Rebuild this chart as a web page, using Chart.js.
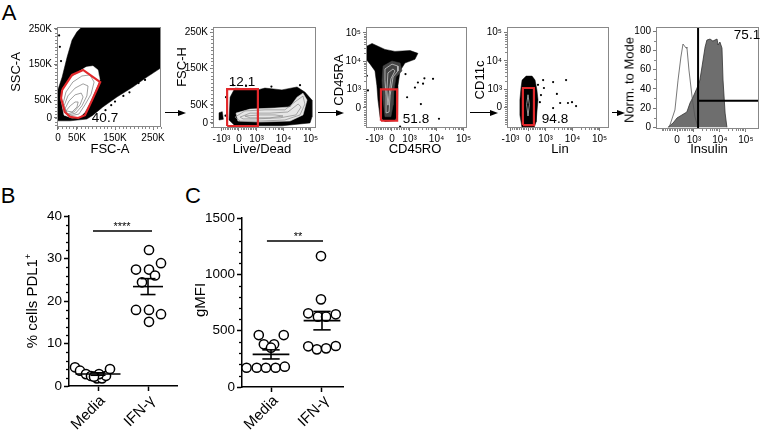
<!DOCTYPE html>
<html><head><meta charset="utf-8">
<script src="https://cdn.jsdelivr.net/npm/chart.js@4.4.1/dist/chart.umd.min.js"></script>
<style>
html,body{margin:0;padding:0;width:760px;height:433px;overflow:hidden;background:#fff;font-family:"Liberation Sans",Arial,Helvetica,sans-serif;color:#000}
canvas{position:absolute}
.t{position:absolute;white-space:nowrap;transform:translate(-50%,-50%);line-height:1}
.r{transform:translate(-50%,-50%) rotate(-90deg)}
.cat{position:absolute;white-space:nowrap;line-height:1;margin-top:-0.5em;transform-origin:100% 50%;transform:rotate(-45deg)}
.ar{position:absolute;height:0;border-top:1.5px solid #000}
.ah{position:absolute;width:0;height:0;border-top:3.5px solid transparent;border-bottom:3.5px solid transparent;border-left:8px solid #000}
</style></head><body>
<script>
// ================= DATA =================
// Panel A – flow plots (gate/contour outlines, in axis units)
const kTicks = [0, 50, 150, 250];
const kLabels = ['0', '50K', '150K', '250K'];
const logTicks = [-0.65, 0, 0.65, 1.65, 2.65];
const logLabels = ['-10³', '0', '10³', '10⁴', '10⁵'];
const logTicksPos = [0, 0.65, 1.65, 2.65];
const logLabelsPos = ['0', '10³', '10⁴', '10⁵'];
const logTicksY = [0, 0.65, 1.65, 2.65];
const logLabelsY = ['0', '10³', '10⁴', '10⁵'];
const pctTicks = [0, 20, 40, 60, 80, 100];
const pctLabels = ['0', '20', '40', '60', '80', '100'];

const p1Cloud = [[-3,-8],[-3,70],[11,115],[24,171],[37,219],[50,242],[63,256],[274,256],[274,143],[234,115],[197,87],[155,59],[118,31],[92,8],[76,-3],[32,-8],[-3,-8]];
const p1Light = [[8,51],[13,84],[32,112],[53,129],[74,143],[92,146],[105,135],[110,107],[97,73],[84,42],[71,17],[58,3],[37,0],[16,8],[8,51]];
const p1Contour1 = [[13,39],[21,73],[39,101],[63,118],[84,121],[95,101],[87,67],[71,37],[55,11],[32,6],[16,17],[13,39]];
const p1Contour2 = [[16,34],[26,62],[45,84],[66,96],[79,90],[76,62],[63,34],[47,14],[26,8],[16,34]];
const p1Contour3 = [[18,25],[29,48],[45,65],[61,70],[66,59],[58,37],[42,17],[24,11],[18,25]];
const p1Contour4 = [[21,20],[32,34],[45,45],[53,45],[50,31],[37,17],[21,20]];
const p1Gate = [[11,79],[37,121],[66,135],[111,101],[90,51],[71,8],[53,0],[32,3],[18,17],[8,56],[11,79]];
const p1Dots = [[229,107],[212,98],[188,72],[172,62],[140,36],[125,22],[5,200],[8,160],[3,232],[244,126],[258,140],[150,46]];

const p2Cloud = [[-0.37,8],[-0.33,71],[-0.15,96],[0.70,91],[0.96,96],[1.59,91],[2.15,99],[2.44,85],[2.70,63],[2.70,16],[2.63,0],[1.59,-8],[-0.15,-8],[-0.37,8]];
const p2Blob = [[-0.74,8],[-0.74,28],[-0.62,31],[-0.58,10],[-0.74,8]];
const p2Band = [[-0.11,27],[0.41,38],[1.33,41],[1.89,44],[2.15,71],[2.37,82],[2.52,63],[2.37,22],[1.89,5],[0.78,2.5],[-0.04,5],[-0.11,27]];
const p2Contour1 = [[-0.15,16],[0.22,33],[0.96,36],[1.70,36],[2.11,60],[2.37,74],[2.44,52],[2.26,22],[1.70,8],[0.78,5],[0.04,5],[-0.15,16]];
const p2Contour2 = [[0.04,16],[0.41,27],[1.15,27],[1.81,30],[2.19,52],[2.30,44],[2.11,22],[1.52,14],[0.59,11],[0.15,11],[0.04,16]];
const p2Contour3 = [[0.22,19],[0.78,22],[1.33,22],[1.63,19],[1.15,14],[0.41,14],[0.22,19]];
const p2Gate = [[-0.44,-8.5],[-0.44,93],[0.70,93],[0.70,-8.5],[-0.44,-8.5]];
const p2Dots = [[-0.22,104],[0.26,102],[2.26,104],[-0.48,71],[1.2,100],[-0.5,20]];

const p3Cloud = [[-0.96,2.17],[-0.74,2.28],[-0.26,2.07],[0.11,2.0],[0.67,2.03],[0.96,1.93],[0.85,1.72],[0.48,1.59],[0.30,1.31],[0.22,0.79],[0.19,0.28],[0.22,-0.24],[0.11,-0.45],[-0.26,-0.48],[-0.44,-0.34],[-0.52,0.28],[-0.56,0.79],[-0.63,1.31],[-0.81,1.55],[-0.96,1.72],[-0.96,2.17]];
const p3Core = [[-0.33,1.48],[0,1.66],[0.30,1.59],[0.37,1.31],[0.15,1.10],[0.07,0.62],[0.04,0.10],[-0.04,-0.31],[-0.26,-0.31],[-0.33,0.28],[-0.37,0.97],[-0.33,1.48]];
const p3Contour1 = [[-0.26,1.38],[0,1.55],[0.22,1.48],[0.22,1.31],[0.04,1.10],[-0.07,0.45],[-0.11,-0.14],[-0.19,-0.17],[-0.22,0.45],[-0.26,0.97],[-0.26,1.38]];
const p3Contour2 = [[-0.15,1.24],[0.04,1.38],[0.11,1.31],[-0.04,1.03],[-0.11,0.45],[-0.15,0.10],[-0.19,0.62],[-0.15,1.24]];
const p3Gate = [[-0.41,-0.45],[-0.41,0.66],[0.19,0.66],[0.19,-0.45],[-0.41,-0.45]];
const p3Dots = [[0.96,0.90],[1.15,0.86],[1.52,1.03],[0.56,0.38],[0.85,0.72],[1.07,0.14],[1.74,-0.38],[0.30,-0.66],[-0.93,1.14],[-0.89,0.62],[0.5,1.2],[1.2,1.05]];

const p4Cloud = [[-0.26,0.69],[-0.22,0.97],[-0.07,1.11],[0.15,1.11],[0.26,0.97],[0.33,0.62],[0.37,0.27],[0.33,-0.16],[0.30,-0.51],[0.22,-0.72],[-0.22,-0.72],[-0.30,-0.27],[-0.30,0.27],[-0.26,0.69]];
const p4Streak = [[0,0.45],[0.05,0.1],[0,-0.3],[-0.05,0.1],[0,0.45]];
const p4Gate = [[-0.19,-0.62],[-0.19,0.69],[0.22,0.69],[0.22,-0.62],[-0.19,-0.62]];
const p4Dots = [[0.93,0.90],[1.41,0.97],[1.07,0.48],[1.19,0.16],[0.93,-0.02],[1.48,0.16],[1.63,0.19],[1.78,0.05],[0.56,0.97],[0.59,0.69],[0.48,0.44],[0.44,0.19],[0.37,0.80]];

const p5Insulin = [[-0.35,0],[-0.15,4.5],[0,9.7],[0.19,12.8],[0.38,15.9],[0.5,25.2],[0.62,31.5],[0.77,40.8],[0.88,49.1],[0.96,62.6],[1.08,83.4],[1.15,90.6],[1.27,91.7],[1.38,89.6],[1.54,91.7],[1.58,85.5],[1.65,88.6],[1.73,82.3],[1.77,49.1],[1.85,14.8],[1.92,0]];
const p5Control = [[-0.3,0],[-0.08,18],[0.04,49],[0.15,73],[0.23,86.5],[0.35,82.3],[0.38,83.4],[0.46,59.5],[0.58,31.5],[0.69,10.7],[0.81,0]];
const p5GateX = 0.81;
const p5GateY = 27.6;

const gateValues = ['40.7', '12.1', '51.8', '94.8', '75.1'];

// Panels B & C – dot plots
const groups = ['Media', 'IFN-γ'];
const bMedia = [4.4, 3.6, 2.8, 2.35, 1.8, 1.8, 2.4, 4.0, 2.8, 2.2];
const bMediaJitter = [-0.46, -0.36, -0.24, -0.14, -0.02, 0.08, 0.16, 0.24, 0.02, -0.08];
const bIfn = [32.0, 27.4, 27.4, 28.9, 26.0, 24.4, 17.9, 17.9, 16.9, 15.1];
const bIfnJitter = [0.02, -0.24, 0.02, 0.26, 0.14, -0.12, -0.24, 0.02, 0.26, 0.02];
const bTicks = [0, 10, 20, 30, 40];
const bSigY = 36.5;
const cMedia = [461, 461, 379, 379, 349, 171, 171, 171, 171, 180];
const cMediaJitter = [-0.24, 0.25, -0.14, 0.06, 0.0, -0.48, -0.28, -0.10, 0.09, 0.27];
const cIfn = [1162, 778, 654, 624, 624, 645, 361, 334, 343, 364];
const cIfnJitter = [-0.02, -0.02, -0.27, -0.08, 0.08, 0.27, -0.27, -0.10, 0.08, 0.27];
const cTicks = [0, 500, 1000, 1500];
const cSigY = 1296;

// ================= HELPERS =================
const FONT = "'Liberation Sans', Arial, Helvetica, sans-serif";
const pts = a => a.map(p => ({x: p[0], y: p[1]}));
const shape = (a, col, order) => ({data: pts(a), showLine: true, fill: 'shape', backgroundColor: col, borderColor: col, borderWidth: 0.5, pointRadius: 0, tension: 0, order});
const outline = (a, col, w, order) => ({data: pts(a), showLine: true, fill: false, borderColor: col, borderWidth: w, pointRadius: 0, tension: 0, order});
const dots = (a, order) => ({data: pts(a), showLine: false, pointRadius: 1.1, pointBackgroundColor: '#000', pointBorderWidth: 0, order});

const logMinor = [];
for (let k = 2; k <= 9; k++) { logMinor.push(0.65 + Math.log10(k), 1.65 + Math.log10(k)); }
for (let k = 1; k <= 9; k++) { logMinor.push(0.065 * k, -0.065 * k); }
const kMinor = [];
for (let v = -20; v <= 270; v += 10) kMinor.push(v);

const decorPlugin = {
  id: 'decor',
  afterDraw(chart, args, o) {
    const ctx = chart.ctx, a = chart.chartArea;
    ctx.save();
    if (o.frame) {
      ctx.strokeStyle = o.frame; ctx.lineWidth = 1;
      ctx.strokeRect(Math.round(a.left) + 0.5, Math.round(a.top) + 0.5, Math.round(a.right - a.left) - 1, Math.round(a.bottom - a.top) - 1);
    }
    ctx.strokeStyle = o.minorColor || '#000';
    ctx.lineWidth = o.minorWidth || 1;
    const len = o.minorLen || 2;
    const xs = chart.scales.x, ys = chart.scales.y;
    (o.xMinor || []).forEach(v => {
      if (v < xs.min || v > xs.max) return;
      const x = Math.round(xs.getPixelForValue(v)) + 0.5;
      ctx.beginPath(); ctx.moveTo(x, a.bottom); ctx.lineTo(x, a.bottom + len); ctx.stroke();
    });
    (o.yMinor || []).forEach(v => {
      if (v < ys.min || v > ys.max) return;
      const y = Math.round(ys.getPixelForValue(v)) + 0.5;
      ctx.beginPath(); ctx.moveTo(a.left, y); ctx.lineTo(a.left - len, y); ctx.stroke();
    });
    ctx.restore();
  }
};

function axis(spec, pos, size, st) {
  return {
    type: 'linear', position: pos, min: spec.min, max: spec.max,
    afterBuildTicks: s => { s.ticks = spec.ticks.map(v => ({value: v})); },
    afterFit: s => { if (pos === 'left') s.width = size; else s.height = size; },
    ticks: {
      display: spec.showLabels !== false,
      callback: (v, i) => spec.labels[i], autoSkip: false,
      font: {family: FONT, size: st.tickSize}, color: '#000', padding: st.tickPad,
      maxRotation: 0, minRotation: 0
    },
    grid: {display: true, drawOnChartArea: false, drawTicks: true, tickLength: st.tickLen, tickColor: st.tickColor, tickWidth: st.tickWidth, color: st.tickColor},
    border: {display: st.border, color: '#000', width: st.borderWidth}
  };
}

function build(box, area, xSpec, ySpec, datasets, st, decor) {
  const cv = document.createElement('canvas');
  cv.width = box.w; cv.height = box.h;
  Object.assign(cv.style, {left: box.l + 'px', top: box.t + 'px', width: box.w + 'px', height: box.h + 'px'});
  document.body.appendChild(cv);
  const yW = area.l - box.l, padT = area.t - box.t, padR = box.l + box.w - area.r, xH = box.t + box.h - area.b;
  new Chart(cv, {
    type: 'scatter',
    data: {datasets},
    options: {
      responsive: false, maintainAspectRatio: false, animation: false, devicePixelRatio: 1, events: [],
      layout: {padding: {top: padT, right: padR, left: 0, bottom: 0}},
      plugins: {legend: {display: false}, tooltip: {enabled: false}, decor},
      scales: {x: axis(xSpec, 'bottom', xH, st), y: axis(ySpec, 'left', yW, st)}
    },
    plugins: [decorPlugin]
  });
}

const flowStyle = {tickSize: 10, tickPad: 2, tickLen: 3, tickColor: '#777', tickWidth: 1, border: false, borderWidth: 1};
const flowDecor = (xm, ym) => ({frame: '#888', minorColor: '#888', minorLen: 2, xMinor: xm, yMinor: ym});
const RED = '#e2282b';

// ---- P1 : FSC-A vs SSC-A
build({l: 18, t: 19, w: 151, h: 124}, {l: 57, t: 27, r: 161, b: 127},
  {min: -2.6, max: 271, ticks: kTicks, labels: kLabels},
  {min: -25.3, max: 255.6, ticks: kTicks, labels: kLabels},
  [outline(p1Gate, RED, 2.2, 1), dots(p1Dots, 2),
   outline(p1Contour4, '#777', 0.7, 3), outline(p1Contour3, '#777', 0.7, 3), outline(p1Contour2, '#777', 0.7, 3), outline(p1Contour1, '#777', 0.7, 3),
   shape(p1Light, '#fff', 4), shape(p1Cloud, '#000', 5)],
  flowStyle, flowDecor(kMinor, kMinor));

// ---- P2 : Live/Dead vs FSC-H
build({l: 173, t: 19, w: 151, h: 124}, {l: 213, t: 27, r: 316, b: 128},
  {min: -0.963, max: 2.852, ticks: logTicks, labels: logLabels},
  {min: -14.0, max: 264.2, ticks: kTicks, labels: kLabels},
  [outline(p2Gate, RED, 2.2, 1), dots(p2Dots, 2),
   outline(p2Contour3, '#888', 0.7, 3), outline(p2Contour2, '#888', 0.7, 3), outline(p2Contour1, '#888', 0.7, 3),
   shape(p2Band, '#e6e6e6', 4), shape(p2Blob, '#000', 5), shape(p2Cloud, '#000', 5)],
  flowStyle, flowDecor(logMinor, kMinor));

// ---- P3 : CD45RO vs CD45RA
build({l: 336, t: 19, w: 139, h: 124}, {l: 366, t: 27, r: 467, b: 128},
  {min: -0.963, max: 2.778, ticks: logTicks, labels: logLabels},
  {min: -0.707, max: 2.862, ticks: logTicksY, labels: logLabelsY},
  [outline(p3Gate, RED, 2.2, 1), dots(p3Dots, 2),
   outline(p3Contour2, '#ddd', 0.7, 3), outline(p3Contour1, '#ddd', 0.7, 3),
   shape(p3Core, '#444', 4), shape(p3Cloud, '#000', 5)],
  flowStyle, flowDecor(logMinor, logMinor));

// ---- P4 : Lin vs CD11c
build({l: 477, t: 19, w: 140, h: 124}, {l: 507, t: 27, r: 609, b: 128},
  {min: -0.778, max: 3.0, ticks: logTicks, labels: logLabels},
  {min: -0.724, max: 2.845, ticks: logTicksY, labels: logLabelsY},
  [outline(p4Gate, RED, 2.2, 1), dots(p4Dots, 2),
   outline(p4Streak, '#bbb', 0.8, 3), shape(p4Cloud, '#000', 5)],
  flowStyle, flowDecor(logMinor, logMinor));

// ---- P5 : Insulin histogram
build({l: 624, t: 19, w: 136, h: 124}, {l: 656, t: 27, r: 759, b: 129},
  {min: -0.808, max: 3.154, ticks: logTicksPos, labels: logLabelsPos},
  {min: -1.77, max: 104.2, ticks: pctTicks, labels: pctLabels},
  [outline([[p5GateX, -1.77], [p5GateX, 104.2]], '#000', 2, 1),
   outline([[p5GateX, p5GateY], [3.154, p5GateY]], '#000', 2, 1),
   outline(p5Control, '#555', 0.8, 2),
   Object.assign(outline(p5Insulin, '#333', 0.8, 3), {fill: 'origin', backgroundColor: '#6e6e6e'})],
  flowStyle, flowDecor(logMinor, [10, 30, 50, 70, 90]));

// ---- Panels B & C
const mean = a => a.reduce((s, v) => s + v, 0) / a.length;
const sem = a => { const m = mean(a); return Math.sqrt(a.reduce((s, v) => s + (v - m) * (v - m), 0) / (a.length - 1)) / Math.sqrt(a.length); };
const group = (vals, jit, c) => vals.map((v, i) => [c + jit[i], v]);
const circles = (a, order) => ({data: pts(a), showLine: false, pointRadius: 4.6, pointBorderWidth: 1.5, pointBorderColor: '#000', pointBackgroundColor: '#fff', order});
function summary(vals, c, hw, cw) {
  const m = mean(vals), s = sem(vals);
  return [outline([[c - hw, m], [c + hw, m]], '#000', 1.6, 1),
          outline([[c, m - s], [c, m + s]], '#000', 1.6, 1),
          outline([[c - cw, m + s], [c + cw, m + s]], '#000', 1.6, 1),
          outline([[c - cw, m - s], [c + cw, m - s]], '#000', 1.6, 1)];
}
const dotStyle = {tickSize: 13.5, tickPad: 2, tickLen: 5, tickColor: '#000', tickWidth: 1.5, border: true, borderWidth: 1.5};
const bMinor = [], cMinor = [];
for (let v = 2; v < 40; v += 2) if (v % 10) bMinor.push(v);
for (let v = 100; v < 1500; v += 100) if (v % 500) cMinor.push(v);

function dotChart(box, area, xr, yr, yTicks, datasets, yMinor) {
  const cv = document.createElement('canvas');
  cv.width = box.w; cv.height = box.h;
  Object.assign(cv.style, {left: box.l + 'px', top: box.t + 'px', width: box.w + 'px', height: box.h + 'px'});
  document.body.appendChild(cv);
  const yW = area.l - box.l, padT = area.t - box.t, padR = box.l + box.w - area.r, xH = box.t + box.h - area.b;
  const xa = axis({min: xr[0], max: xr[1], ticks: [0, 1], labels: groups, showLabels: false}, 'bottom', xH, dotStyle);
  const ya = axis({min: yr[0], max: yr[1], ticks: yTicks, labels: yTicks.map(String)}, 'left', yW, dotStyle);
  new Chart(cv, {
    type: 'scatter', data: {datasets},
    options: {
      responsive: false, maintainAspectRatio: false, animation: false, devicePixelRatio: 1, events: [],
      layout: {padding: {top: padT, right: padR, left: 0, bottom: 0}},
      plugins: {legend: {display: false}, tooltip: {enabled: false}, decor: {minorColor: '#000', minorWidth: 1.3, minorLen: 3, yMinor}},
      scales: {x: xa, y: ya}
    },
    plugins: [decorPlugin]
  });
}

dotChart({l: 35, t: 200, w: 150, h: 233}, {l: 69, t: 216, r: 177, b: 386}, [-0.58, 1.58], [0, 40], bTicks,
  [...summary(bMedia, 0, 0.45, 0.15), ...summary(bIfn, 1, 0.3, 0.15),
   outline([[-0.1, bSigY], [1.08, bSigY]], '#000', 1.5, 1),
   circles(group(bMedia, bMediaJitter, 0), 2), circles(group(bIfn, bIfnJitter, 1), 2)], bMinor);

dotChart({l: 205, t: 200, w: 147, h: 233}, {l: 242, t: 218, r: 343, b: 387}, [-0.569, 1.412], [0, 1500], cTicks,
  [...summary(cMedia, 0, 0.36, 0.17), ...summary(cIfn, 1, 0.36, 0.17),
   outline([[-0.08, cSigY], [1.02, cSigY]], '#000', 1.5, 1),
   circles(group(cMedia, cMediaJitter, 0), 2), circles(group(cIfn, cIfnJitter, 1), 2)], cMinor);

// ================= TEXT & ARROWS =================
function txt(s, x, y, size, rot) {
  const d = document.createElement('div');
  d.className = 't' + (rot ? ' r' : '');
  d.innerHTML = s;
  Object.assign(d.style, {left: x + 'px', top: y + 'px', fontSize: size + 'px'});
  document.body.appendChild(d);
}
function cat(s, xEnd, y) {
  const d = document.createElement('div');
  d.className = 'cat';
  d.textContent = s;
  Object.assign(d.style, {right: (760 - xEnd) + 'px', top: y + 'px', fontSize: '15px'});
  document.body.appendChild(d);
}
function arrow(x1, x2, y) {
  const l = document.createElement('div');
  l.className = 'ar';
  Object.assign(l.style, {left: x1 + 'px', top: (y - 0.75) + 'px', width: (x2 - x1 - 6) + 'px'});
  document.body.appendChild(l);
  const h = document.createElement('div');
  h.className = 'ah';
  Object.assign(h.style, {left: (x2 - 8) + 'px', top: (y - 3.5) + 'px'});
  document.body.appendChild(h);
}
txt('A', 9, 13, 22); txt('B', 8, 196, 22); txt('C', 193, 196, 22);
txt('SSC-A', 15, 72, 13, true); txt('FSC-A', 110, 148, 13);
txt('FSC-H', 181, 67, 13, true); txt('Live/Dead', 262, 148, 13);
txt('CD45RA', 338, 80, 13, true); txt('CD45RO', 415, 148, 13);
txt('CD11c', 479, 80, 13, true); txt('Lin', 560, 148, 13);
txt('Norm. to Mode', 629, 80, 13, true); txt('Insulin', 709, 148, 13);
txt(gateValues[0], 105, 118, 13.5); txt(gateValues[1], 242, 82, 13.5); txt(gateValues[2], 416, 119, 13.5);
txt(gateValues[3], 555, 119, 13.5); txt(gateValues[4], 747, 35, 13.5);
txt('% cells PDL1<sup style="font-size:9px">+</sup>', 31, 301, 15, true);
txt('gMFI', 199, 300, 15, true);
txt('****', 122, 226, 11); txt('**', 298, 236, 11);
cat(groups[0], 102, 397); cat(groups[1], 152, 397);
cat(groups[0], 275, 397); cat(groups[1], 326, 397);
arrow(165, 186, 113); arrow(318, 344, 113); arrow(470, 498, 113); arrow(612, 625, 113);
</script>
</body></html>
